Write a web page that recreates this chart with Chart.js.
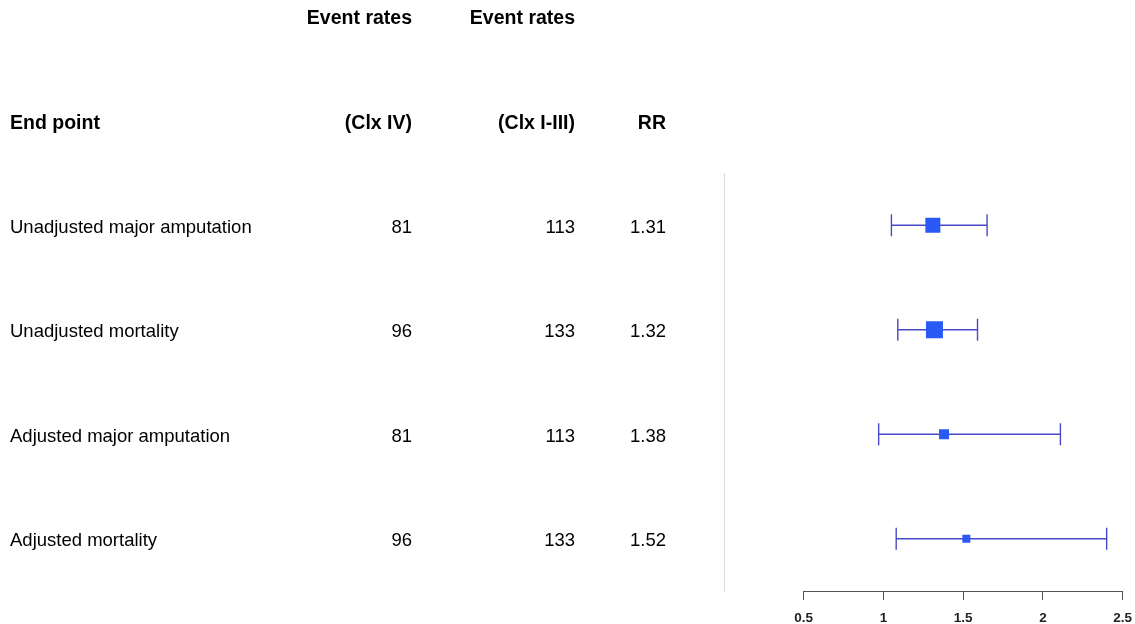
<!DOCTYPE html>
<html>
<head>
<meta charset="utf-8">
<script src="https://cdn.jsdelivr.net/npm/chart.js@4/dist/chart.umd.min.js"></script>
<style>
  html, body { margin: 0; padding: 0; background: #ffffff; }
  #wrap { position: relative; width: 1135px; height: 624px; }
</style>
</head>
<body>
<div id="wrap"><canvas id="c"></canvas></div>
<script>
// ---- data ----
const endpoints = ["Unadjusted major amputation", "Unadjusted mortality", "Adjusted major amputation", "Adjusted mortality"];
const eventsClxIV = [81, 96, 81, 96];
const eventsClxI_III = [113, 133, 113, 133];
const rr = [1.31, 1.32, 1.38, 1.52];
const ciLow = [1.05, 1.09, 0.97, 1.08];
const ciHigh = [1.65, 1.59, 2.11, 2.40];
const xTicks = [0.5, 1, 1.5, 2, 2.5];
const headerTop = ["", "Event rates", "Event rates", ""];
const headerBottom = ["End point", "(Clx IV)", "(Clx I-III)", "RR"];

// ---- style ----
const boxSides = [15, 17, 10, 8];
const lineColor = '#4848c8';
const boxColor = '#2a5af5';
const FONT = '"Liberation Sans", Arial, sans-serif';

const rows = endpoints.map((_, i) => i + 1);

const datasets = [];
datasets.push({
  type: 'scatter',
  label: 'RR',
  data: rr.map((v, i) => ({ x: v, y: rows[i] })),
  pointStyle: 'rect',
  pointRadius: boxSides.map(s => s / Math.SQRT2),
  pointHoverRadius: boxSides.map(s => s / Math.SQRT2),
  pointBackgroundColor: boxColor,
  pointBorderColor: boxColor,
  pointBorderWidth: 0,
  showLine: false,
  order: 0
});
rows.forEach((r, i) => {
  datasets.push({
    type: 'line',
    label: 'CI ' + (i + 1),
    data: [{ x: ciLow[i], y: r }, { x: ciHigh[i], y: r }],
    borderColor: lineColor,
    borderWidth: 1.3,
    pointStyle: 'line',
    rotation: 90,
    pointRadius: 11,
    pointHoverRadius: 11,
    pointBorderColor: lineColor,
    pointBorderWidth: 1.4,
    fill: false,
    order: 1
  });
});

const cols = [
  { x: 10, align: 'left' },
  { x: 412, align: 'right' },
  { x: 575, align: 'right' },
  { x: 666, align: 'right' }
];
const textShift = 2.5;

const tablePlugin = {
  id: 'table',
  afterDraw(chart) {
    const ctx = chart.ctx;
    const ys = chart.scales.y;
    const xs = chart.scales.x;
    const area = chart.chartArea;
    ctx.save();
    // axis line between first and last tick
    ctx.strokeStyle = '#555555';
    ctx.lineWidth = 1;
    ctx.beginPath();
    const yb = Math.round(area.bottom) + 0.5;
    ctx.moveTo(xs.getPixelForValue(xTicks[0]), yb);
    ctx.lineTo(xs.getPixelForValue(xTicks[xTicks.length - 1]), yb);
    ctx.stroke();

    ctx.fillStyle = '#000000';
    ctx.textBaseline = 'middle';
    // headers
    ctx.font = 'bold 19.5px ' + FONT;
    const yTop = ys.getPixelForValue(-1) + textShift;
    const yHead = ys.getPixelForValue(0) + textShift;
    cols.forEach((c, j) => {
      ctx.textAlign = c.align;
      if (headerTop[j]) ctx.fillText(headerTop[j], c.x, yTop);
      ctx.fillText(headerBottom[j], c.x, yHead);
    });
    // rows
    ctx.font = '18.5px ' + FONT;
    rows.forEach((r, i) => {
      const y = ys.getPixelForValue(r) + textShift;
      const vals = [endpoints[i], String(eventsClxIV[i]), String(eventsClxI_III[i]), rr[i].toFixed(2)];
      cols.forEach((c, j) => {
        ctx.textAlign = c.align;
        ctx.fillText(vals[j], c.x, y);
      });
    });
    ctx.restore();
  }
};

new Chart(document.getElementById('c'), {
  type: 'scatter',
  data: { datasets },
  options: {
    responsive: true,
    maintainAspectRatio: false,
    animation: false,
    events: [],
    layout: { padding: { left: 724, right: 11, top: 173, bottom: 0 } },
    plugins: { legend: { display: false }, tooltip: { enabled: false } },
    scales: {
      x: {
        type: 'linear',
        position: 'bottom',
        min: 0,
        max: 2.5,
        afterBuildTicks(scale) {
          scale.ticks = xTicks.map(v => ({ value: v }));
        },
        afterFit(scale) {
          scale.height = 33;
          scale.paddingLeft = 0;
          scale.paddingRight = 0;
        },
        ticks: {
          color: '#222222',
          font: { family: FONT, size: 13.5, weight: 'bold' },
          padding: 10,
          maxRotation: 0,
          autoSkip: false,
          callback: v => String(v)
        },
        grid: {
          display: true,
          drawOnChartArea: false,
          drawTicks: true,
          tickLength: 9,
          color: '#555555',
          lineWidth: 1
        },
        border: { display: false }
      },
      y: {
        type: 'linear',
        position: 'left',
        min: 0.5,
        max: 4.5,
        reverse: true,
        afterFit(scale) { scale.width = 0; },
        ticks: { display: false },
        grid: { display: false, drawTicks: false },
        border: { display: true, color: '#d9d9d9', width: 1 }
      }
    }
  },
  plugins: [tablePlugin]
});
</script>
</body>
</html>
